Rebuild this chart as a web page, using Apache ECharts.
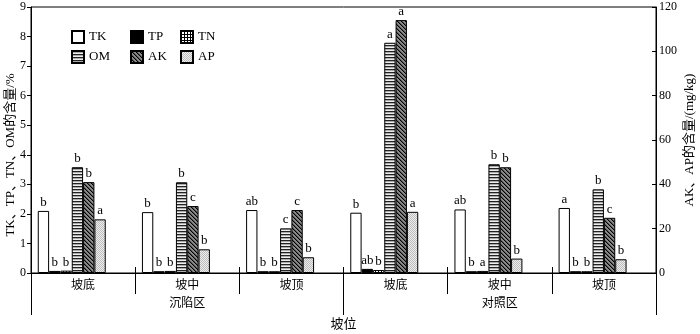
<!DOCTYPE html>
<html>
<head>
<meta charset="utf-8">
<script src="https://cdn.jsdelivr.net/npm/echarts@6/dist/echarts.min.js"></script>
<style>html,body{margin:0;padding:0;background:#fff;}#c{width:700px;height:334px;}</style>
</head>
<body>
<div id="c"></div>
<script>
// ---- data ----
const slopeCats = ['坡底', '坡中', '坡顶', '坡底', '坡中', '坡顶'];
const zoneCats = ['沉陷区', '对照区'];
const seriesNames = ['TK', 'TP', 'TN', 'OM', 'AK', 'AP'];
const tkVals = [2.10, 2.06, 2.13, 2.04, 2.15, 2.20];
const tpVals = [0.07, 0.06, 0.06, 0.14, 0.06, 0.06];
const tnVals = [0.08, 0.07, 0.06, 0.10, 0.07, 0.06];
const omVals = [3.58, 3.07, 1.51, 7.79, 3.68, 2.83];
const akVals = [41.0, 30.2, 28.4, 114.1, 47.7, 24.9];
const apVals = [24.2, 10.7, 7.1, 27.6, 6.5, 6.2];
const tkSig = ['b', 'b', 'ab', 'b', 'ab', 'a'];
const tpSig = ['b', 'b', 'b', 'ab', 'b', 'b'];
const tnSig = ['b', 'b', 'b', 'b', 'a', 'b'];
const omSig = ['b', 'b', 'c', 'a', 'b', 'b'];
const akSig = ['b', 'c', 'c', 'a', 'b', 'c'];
const apSig = ['a', 'b', 'b', 'a', 'b', 'b'];
const leftTicks = { min: 0, max: 9, interval: 1 };
const rightTicks = { min: 0, max: 120, interval: 20 };

// ---- styles ----
const FONT = '"Liberation Serif", "Noto Sans CJK SC", serif';
function pat(w, h, draw) {
  const c = document.createElement('canvas');
  c.width = w; c.height = h;
  const g = c.getContext('2d');
  draw(g);
  return { image: c, repeat: 'repeat' };
}
const fills = {
  TK: '#ffffff',
  TP: '#000000',
  TN: pat(3, 3, g => { g.fillStyle = '#fff'; g.fillRect(0, 0, 3, 3); g.fillStyle = '#000'; g.fillRect(0, 0, 3, 1); g.fillRect(0, 0, 1, 3); }),
  OM: pat(4, 3, g => { g.fillStyle = '#eeeeee'; g.fillRect(0, 0, 4, 3); g.fillStyle = '#222'; g.fillRect(0, 0, 4, 1); g.fillStyle = '#aaa'; g.fillRect(0, 1, 4, 1); }),
  AK: pat(4, 4, g => { g.fillStyle = '#8a8a8a'; g.fillRect(0, 0, 4, 4); for (let i = 0; i < 4; i++) { g.fillStyle = '#000'; g.fillRect(i, i, 1, 1); g.fillStyle = '#555'; g.fillRect((i + 1) % 4, i, 1, 1); } }),
  AP: pat(2, 2, g => { g.fillStyle = '#eeeeee'; g.fillRect(0, 0, 2, 2); g.fillStyle = '#bcbcbc'; g.fillRect(0, 0, 1, 1); g.fillRect(1, 1, 1, 1); })
};

const valMap = { TK: tkVals, TP: tpVals, TN: tnVals, OM: omVals, AK: akVals, AP: apVals };
const sigMap = { TK: tkSig, TP: tpSig, TN: tnSig, OM: omSig, AK: akSig, AP: apSig };
const rightAxisSeries = ['AK', 'AP'];

const series = seriesNames.map(n => ({
  name: n,
  type: 'bar',
  xAxisIndex: 0,
  yAxisIndex: rightAxisSeries.includes(n) ? 1 : 0,
  data: valMap[n],
  barGap: '0%',
  barCategoryGap: '13%',
  itemStyle: { color: fills[n], borderColor: '#000', borderWidth: 1 },
  label: {
    show: true, position: 'top', distance: 2,
    color: '#000', fontFamily: FONT, fontSize: 13,
    formatter: p => sigMap[n][p.dataIndex]
  },
  emphasis: { disabled: true },
  animation: false
}));
// two invisible placeholder series (zero height) so the bar cluster sits left within each category
const blankSlot = slopeCats.map(() => 0);
for (let k = 0; k < 2; k++) {
  series.push({ name: 'blank' + k, type: 'bar', xAxisIndex: 0, yAxisIndex: 0, data: blankSlot, barGap: '0%', barCategoryGap: '13%', itemStyle: { color: 'rgba(0,0,0,0)', borderWidth: 0, opacity: 0 }, label: { show: false }, silent: true, animation: false });
}

const legendPos = [[71, 30], [130, 30], [180, 30], [71, 50], [130, 50], [180, 50]];
const legends = seriesNames.map((n, i) => ({
  data: [n],
  left: legendPos[i][0], top: legendPos[i][1],
  itemWidth: 12, itemHeight: 12, icon: 'rect',
  padding: 0, itemGap: 0,
  selectedMode: false,
  textStyle: { fontFamily: FONT, fontSize: 13, color: '#000' }
}));

const chart = echarts.init(document.getElementById('c'), null, { renderer: 'canvas' });
chart.setOption({
  animation: false,
  backgroundColor: '#fff',
  grid: { left: 31, right: 44, top: 7, bottom: 61, containLabel: false, outerBoundsMode: 'none', show: true, borderColor: '#000', borderWidth: 1, backgroundColor: 'transparent' },
  legend: legends,
  xAxis: [
    {
      type: 'category', data: slopeCats, position: 'bottom',
      axisLine: { show: true, lineStyle: { color: '#000', width: 1 } },
      axisTick: { show: true, length: 21, interval: 0, alignWithLabel: false, lineStyle: { color: '#000' } },
      axisLabel: { interval: 0, margin: 7, color: '#000', fontFamily: FONT, fontSize: 12 }
    },
    {
      type: 'category', data: zoneCats, position: 'bottom',
      axisLine: { show: false },
      axisTick: { show: true, length: 42, interval: 0, lineStyle: { color: '#000' } },
      axisLabel: { interval: 0, margin: 25, color: '#000', fontFamily: FONT, fontSize: 12 },
      name: '坡位', nameLocation: 'middle', nameGap: 45, nameMoveOverlap: false,
      nameTextStyle: { color: '#000', fontFamily: FONT, fontSize: 13 }
    },
    {
      type: 'category', data: slopeCats, position: 'bottom',
      axisLine: { show: false },
      axisTick: { show: true, inside: true, length: 6, interval: 0, lineStyle: { color: '#000' } },
      axisLabel: { show: false }
    }
  ],
  yAxis: [
    {
      type: 'value', position: 'left', min: leftTicks.min, max: leftTicks.max, interval: leftTicks.interval,
      axisLine: { show: true, lineStyle: { color: '#000' } },
      axisTick: { show: true, length: 4, lineStyle: { color: '#000' } },
      axisLabel: { margin: 5, color: '#000', fontFamily: FONT, fontSize: 12 },
      splitLine: { show: false },
      name: 'TK、TP、TN、OM的含量/%', nameLocation: 'middle', nameGap: 14, nameMoveOverlap: false,
      nameTextStyle: { color: '#000', fontFamily: FONT, fontSize: 13, padding: [0, 30, 0, 0] }
    },
    {
      type: 'value', position: 'right', min: rightTicks.min, max: rightTicks.max, interval: rightTicks.interval,
      axisLine: { show: true, lineStyle: { color: '#000' } },
      axisTick: { show: true, inside: true, length: 4, lineStyle: { color: '#000' } },
      axisLabel: { margin: 3, color: '#000', fontFamily: FONT, fontSize: 12 },
      splitLine: { show: false },
      name: 'AK、AP的含量/(mg/kg)', nameLocation: 'middle', nameGap: 27, nameMoveOverlap: false,
      nameTextStyle: { color: '#000', fontFamily: FONT, fontSize: 13 }
    }
  ],
  series: series
});
</script>
</body>
</html>
